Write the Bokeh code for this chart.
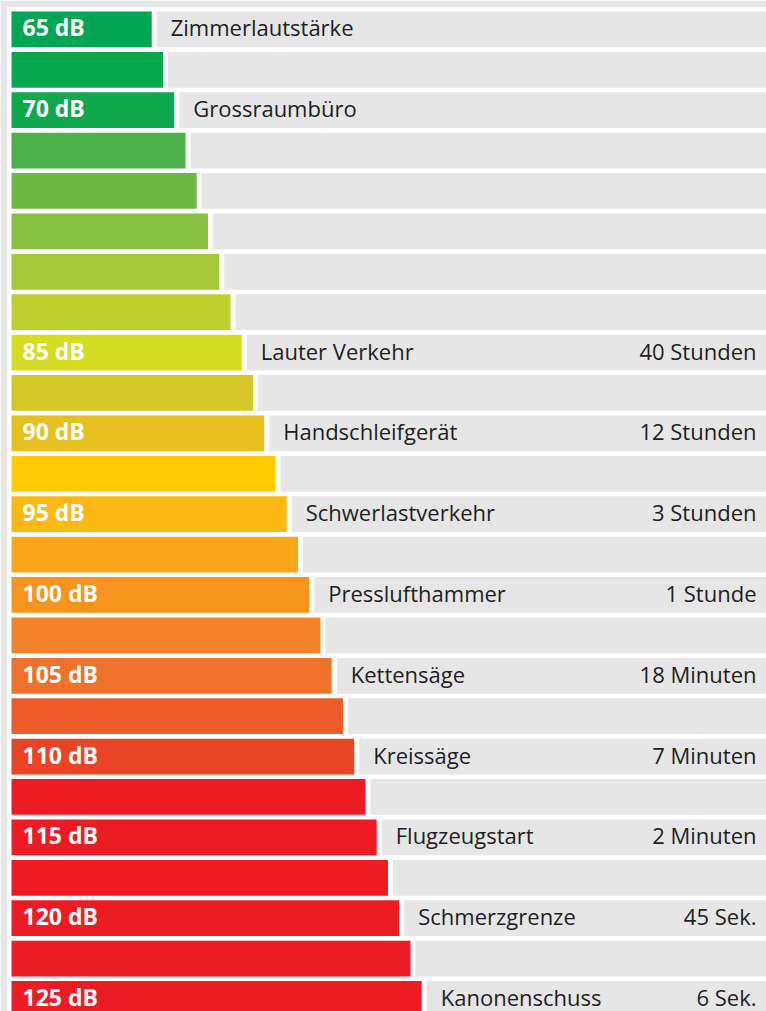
from bokeh.plotting import figure
from bokeh.models import ColumnDataSource, Range1d
from bokeh.core.properties import value
from bokeh.embed import file_html
from bokeh.resources import INLINE

# ---- data ----
levels_db = [65, 67.5, 70, 72.5, 75, 77.5, 80, 82.5, 85, 87.5, 90, 92.5, 95,
             97.5, 100, 102.5, 105, 107.5, 110, 112.5, 115, 117.5, 120, 122.5, 125]
level_labels = ["65 dB", "", "70 dB", "", "", "", "", "", "85 dB", "", "90 dB", "",
                "95 dB", "", "100 dB", "", "105 dB", "", "110 dB", "", "115 dB", "",
                "120 dB", "", "125 dB"]
noise_sources = ["Zimmerlautstärke", "", "Grossraumbüro", "", "", "", "", "",
                 "Lauter Verkehr", "", "Handschleifgerät", "", "Schwerlastverkehr", "",
                 "Presslufthammer", "", "Kettensäge", "", "Kreissäge", "",
                 "Flugzeugstart", "", "Schmerzgrenze", "", "Kanonenschuss"]
exposure_time = ["", "", "", "", "", "", "", "", "40 Stunden", "", "12 Stunden", "",
                 "3 Stunden", "", "1 Stunde", "", "18 Minuten", "", "7 Minuten", "",
                 "2 Minuten", "", "45 Sek.", "", "6 Sek."]
bar_colors = ["#00a651", "#06a74f", "#0ea84d", "#4cb04b", "#6bb845", "#88c03f",
              "#a4c83a", "#bdd030", "#d4dd22", "#d5c929", "#e6c01f", "#ffcb05",
              "#fdb913", "#faa61a", "#f7941d", "#f3832a", "#f0712a", "#ec5b2a",
              "#ea4427", "#ed1c24", "#ed1c24", "#ed1c24", "#ed1c24", "#ed1c24",
              "#ed1c24"]

# ---- layout constants (style) ----
BASE = 33.84        # where coloured bars start on the dB scale
GAP = 1.11          # white gap between coloured and grey bar (dB units)
GREY = "#e6e6e6"
TXT = "#1e1e24"
X0, X1 = 32.95, 201.62
Y_TOP, Y_BOT = -0.542, 24.31

rows = list(range(len(levels_db)))
src = ColumnDataSource(dict(
    row=rows,
    db=levels_db,
    grey_left=[d + GAP for d in levels_db],
    color=bar_colors,
    lvl=level_labels,
    name=noise_sources,
    time=exposure_time,
    base=[BASE] * len(rows),
    right_edge=[X1] * len(rows),
))

p = figure(width=766, height=1011, x_range=Range1d(X0, X1),
           y_range=Range1d(Y_BOT, Y_TOP), output_backend="svg",
           toolbar_location=None, x_axis_type=None, y_axis_type=None,
           min_border_left=7, min_border_top=7, min_border_right=0,
           min_border_bottom=0)
p.grid.visible = False
p.outline_line_color = None
p.background_fill_color = "white"
p.border_fill_color = GREY

p.hbar(y="row", left="base", right="db", height=0.885, color="color",
       line_color=None, source=src)
p.hbar(y="row", left="grey_left", right=X1 + 20, height=0.885, color=GREY,
       line_color=None, source=src)

p.text(x="base", y="row", text="lvl", source=src, x_offset=11, y_offset=-2,
       text_font=value("Open Sans"), text_font_style="bold",
       text_font_size="23px", text_color="white", text_baseline="middle",
       text_align="left")
p.text(x="db", y="row", text="name", source=src, x_offset=19, y_offset=-2,
       text_font=value("Open Sans"), text_font_size="22px", text_color=TXT,
       text_baseline="middle", text_align="left")
p.text(x="right_edge", y="row", text="time", source=src, x_offset=-10, y_offset=-2,
       text_font=value("Open Sans"), text_font_size="22px", text_color=TXT,
       text_baseline="middle", text_align="right")

html = file_html(p, INLINE)
open("out.html", "w").write(html)
